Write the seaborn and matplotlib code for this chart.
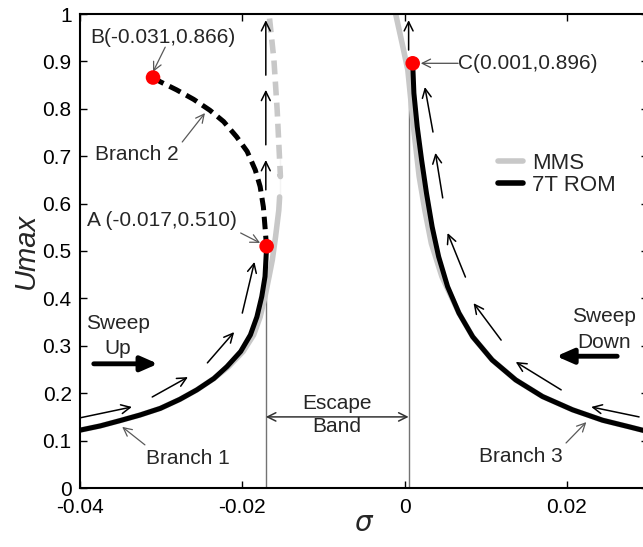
import matplotlib
matplotlib.use("Agg")
import matplotlib.pyplot as plt
from matplotlib.lines import Line2D
import seaborn as sns

# ---- data ----
# 7T ROM, branch 1 (stable, solid)
rom1_x = [-0.0400, -0.0375, -0.0351, -0.0326, -0.0301, -0.0277, -0.0256, -0.0235,
          -0.0219, -0.0202, -0.0190, -0.0182, -0.0176, -0.0172, -0.0170]
rom1_y = [0.122, 0.131, 0.142, 0.154, 0.168, 0.187, 0.207, 0.231,
          0.256, 0.288, 0.323, 0.361, 0.404, 0.446, 0.510]
# 7T ROM, branch 2 (unstable, dashed)
rom2_x = [-0.0170, -0.0172, -0.0174, -0.0178, -0.0184, -0.0194, -0.0207,
          -0.0223, -0.0240, -0.0260, -0.0281, -0.0301, -0.0310]
rom2_y = [0.506, 0.551, 0.593, 0.636, 0.671, 0.710, 0.741,
          0.773, 0.797, 0.820, 0.840, 0.857, 0.866]
# 7T ROM, branch 3
rom3_x = [0.0010, 0.00115, 0.00156, 0.0021, 0.0027, 0.0034, 0.0042, 0.0053, 0.0067,
          0.0084, 0.0108, 0.0137, 0.0170, 0.0207, 0.0244, 0.0277, 0.0300]
rom3_y = [0.896, 0.833, 0.762, 0.692, 0.622, 0.551, 0.488, 0.425, 0.369,
          0.319, 0.270, 0.228, 0.193, 0.165, 0.143, 0.129, 0.119]
# MMS, branch 1 (solid part) and its dashed continuation
mms1_x = [-0.0400, -0.0375, -0.0351, -0.0326, -0.0301, -0.0277, -0.0256, -0.0235,
          -0.0217, -0.0199, -0.0186, -0.0178, -0.0172, -0.0167, -0.0163, -0.0159,
          -0.0155, -0.0154]
mms1_y = [0.122, 0.131, 0.142, 0.154, 0.168, 0.187, 0.207, 0.231,
          0.256, 0.288, 0.323, 0.361, 0.404, 0.446, 0.481, 0.530,
          0.586, 0.614]
mms2_x = [-0.0154, -0.0153, -0.0154, -0.0157, -0.0161, -0.0167]
mms2_y = [0.614, 0.657, 0.713, 0.797, 0.903, 1.000]
# MMS, branch 3
mms3_x = [-0.0011, -0.0003, 0.0004, 0.0011, 0.0018, 0.0025, 0.0033, 0.0046,
          0.0067, 0.0084, 0.0108, 0.0137, 0.0170, 0.0207, 0.0244, 0.0277, 0.0300]
mms3_y = [1.000, 0.938, 0.882, 0.762, 0.657, 0.586, 0.516, 0.446,
          0.369, 0.319, 0.270, 0.228, 0.193, 0.165, 0.143, 0.129, 0.119]

pts_x = [-0.017, -0.031, 0.001]
pts_y = [0.510, 0.866, 0.896]

# direction arrows (tail x, tail y, head x, head y)
flow_arrows = [
    (-0.0400, 0.148, -0.0336, 0.171),
    (-0.0311, 0.192, -0.0267, 0.234),
    (-0.0243, 0.264, -0.0210, 0.329),
    (-0.0200, 0.369, -0.0185, 0.477),
    (-0.0171, 0.629, -0.0171, 0.692),
    (-0.0171, 0.724, -0.0171, 0.840),
    (-0.0171, 0.871, -0.0171, 0.987),
    (0.0005, 0.924, 0.0005, 0.987),
    (0.0035, 0.751, 0.0025, 0.846),
    (0.0047, 0.612, 0.0038, 0.707),
    (0.0075, 0.445, 0.0053, 0.538),
    (0.0119, 0.312, 0.0085, 0.390),
    (0.0193, 0.207, 0.0137, 0.266),
    (0.0289, 0.150, 0.0230, 0.171),
]

# labels with pointer arrows: text, text x, text y, pointer tail, pointer head
labels = [
    ("B(-0.031,0.866)", -0.0298, 0.951, (-0.0295, 0.930), (-0.0310, 0.878)),
    ("Branch 2", -0.0330, 0.703, (-0.0274, 0.730), (-0.0246, 0.791)),
    ("A (-0.017,0.510)", -0.0299, 0.565, (-0.0202, 0.538), (-0.0178, 0.517)),
    ("Branch 1", -0.0267, 0.063, (-0.0320, 0.091), (-0.0348, 0.129)),
    ("Branch 3", 0.0143, 0.066, (0.0199, 0.095), (0.0224, 0.139)),
]

band_x = [-0.0171, 0.0005]
band_top = [0.510, 0.850]

x_ticks = [-0.04, -0.02, 0, 0.02]
x_ticklabels = ["-0.04", "-0.02", "0", "0.02"]
y_ticks = [0, 0.1, 0.2, 0.3, 0.4, 0.5, 0.6, 0.7, 0.8, 0.9, 1.0]
y_ticklabels = ["0", "0.1", "0.2", "0.3", "0.4", "0.5", "0.6", "0.7", "0.8", "0.9", "1"]

sns.set_style("ticks")
plt.rcParams['font.family'] = ['Liberation Sans', 'DejaVu Sans']

fig = plt.figure(figsize=(6.43, 5.47), dpi=100)
ax = fig.add_axes([80 / 643, 59 / 547, 568 / 643, 474 / 547])

gray = "#c8c8c8"
dash = (0, (2.5, 1.3))
# MMS
sns.lineplot(x=mms1_x, y=mms1_y, sort=False, color=gray, lw=4, ax=ax)
sns.lineplot(x=mms2_x, y=mms2_y, sort=False, color=gray, lw=4, linestyle=dash, ax=ax)
sns.lineplot(x=mms3_x, y=mms3_y, sort=False, color=gray, lw=4, ax=ax)
# 7T ROM
sns.lineplot(x=rom1_x, y=rom1_y, sort=False, color="black", lw=3.6, ax=ax)
sns.lineplot(x=rom2_x, y=rom2_y, sort=False, color="black", lw=3.6, linestyle=dash, ax=ax)
sns.lineplot(x=rom3_x, y=rom3_y, sort=False, color="black", lw=3.6, ax=ax)

# escape band boundaries
for bx, bt in zip(band_x, band_top):
    ax.plot([bx, bx], [0, bt], color="0.45", lw=1, zorder=1)

# flow arrows
for x0, y0, x1, y1 in flow_arrows:
    ax.annotate("", xy=(x1, y1), xytext=(x0, y0),
                arrowprops=dict(arrowstyle="->,head_length=0.65,head_width=0.32",
                                color="black", lw=1.1, shrinkA=0, shrinkB=0))

# points
sns.scatterplot(x=pts_x, y=pts_y, color="red", s=110, edgecolor="none", zorder=5, ax=ax)

fs = 15
for txt, tx, ty, tail, head in labels:
    ax.text(tx, ty, txt, fontsize=fs, ha="center", va="center")
    ax.annotate("", xy=head, xytext=tail,
                arrowprops=dict(arrowstyle="->,head_length=0.6,head_width=0.3",
                                color="0.35", lw=0.9, shrinkA=0, shrinkB=0))

# C label, horizontal pointer
ax.text(0.0066, 0.896, "C(0.001,0.896)", fontsize=fs, ha="left", va="center")
ax.annotate("", xy=(0.0020, 0.896), xytext=(0.0066, 0.896),
            arrowprops=dict(arrowstyle="->,head_length=0.6,head_width=0.3",
                            color="0.3", lw=0.9, shrinkA=0, shrinkB=0))

# escape band double arrow
ax.annotate("", xy=(band_x[0], 0.150), xytext=(band_x[1], 0.150),
            arrowprops=dict(arrowstyle="<->,head_length=0.6,head_width=0.3",
                            color="0.2", lw=1.1, shrinkA=0, shrinkB=0))
ax.text(-0.0083, 0.179, "Escape", fontsize=fs, ha="center", va="center")
ax.text(-0.0083, 0.129, "Band", fontsize=fs, ha="center", va="center")

# sweep arrows
ax.annotate("", xy=(-0.0304, 0.262), xytext=(-0.0383, 0.262),
            arrowprops=dict(arrowstyle="-|>,head_length=0.5,head_width=0.22",
                            color="black", lw=3.5, shrinkA=0, shrinkB=0, mutation_scale=20))
ax.text(-0.0353, 0.346, "Sweep", fontsize=fs, ha="center", va="center")
ax.text(-0.0353, 0.295, "Up", fontsize=fs, ha="center", va="center")
ax.annotate("", xy=(0.0187, 0.278), xytext=(0.0262, 0.278),
            arrowprops=dict(arrowstyle="-|>,head_length=0.5,head_width=0.22",
                            color="black", lw=3.5, shrinkA=0, shrinkB=0, mutation_scale=20))
ax.text(0.0246, 0.361, "Sweep", fontsize=fs, ha="center", va="center")
ax.text(0.0246, 0.308, "Down", fontsize=fs, ha="center", va="center")

# legend
handles = [Line2D([], [], color=gray, lw=4), Line2D([], [], color="black", lw=4)]
ax.legend(handles, ["MMS", "7T ROM"], loc="center left", bbox_to_anchor=(0.70, 0.662),
          frameon=False, fontsize=16, handlelength=1.15, handletextpad=0.4, labelspacing=0.05)

ax.set_xlim(-0.04, 0.03)
ax.set_ylim(0, 1)
ax.set_xticks(x_ticks)
ax.set_xticklabels(x_ticklabels)
ax.set_yticks(y_ticks)
ax.set_yticklabels(y_ticklabels)
ax.tick_params(direction="in", length=5, width=1, labelsize=15, top=True, right=True,
               colors="black")
ax.tick_params(axis="x", pad=7)
ax.tick_params(axis="y", pad=6)
for sp in ax.spines.values():
    sp.set_linewidth(1.5)
    sp.set_color("black")

ax.set_xlabel(r"$\sigma$", fontsize=20, labelpad=-4)
ax.set_ylabel("Umax", fontsize=21, fontstyle="italic", labelpad=2)

fig.savefig("out.png", dpi=100)
